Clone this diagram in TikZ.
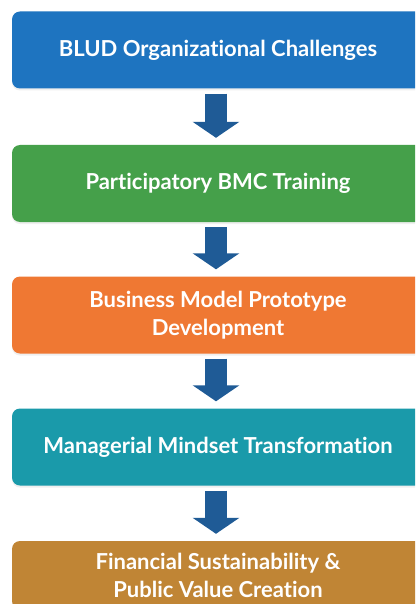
\documentclass[tikz,border=0pt]{standalone}
\usepackage{fontspec}
\setmainfont{Lato}[Ligatures={NoCommon}]
\usetikzlibrary{arrows.meta,calc,shadows}
\definecolor{stageblue}{HTML}{1E74C0}
\definecolor{stagegreen}{HTML}{45A04A}
\definecolor{stageorange}{HTML}{EF7833}
\definecolor{stageteal}{HTML}{1A9AAA}
\definecolor{stagebrown}{HTML}{C08535}
\definecolor{flowarrow}{HTML}{1F5B96}
\tikzset{
  stagebox/.style={rounded corners=8pt, minimum width=412pt, minimum height=77pt,
    text=white, align=center, inner sep=0pt,
    font=\fontsize{22}{28}\selectfont\bfseries,
    drop shadow={opacity=0.12, shadow xshift=0pt, shadow yshift=-2pt}},
  flowstep/.style={draw=flowarrow, line width=22pt,
    -{Triangle[width=46pt,length=16pt]}}
}
\begin{document}
\begin{tikzpicture}[x=1pt,y=-1pt]
  \useasboundingbox[fill=white] (0,0) rectangle (415,604);
  \begin{scope}
    \clip (0,0) rectangle (415,604);
    \node[stagebox, fill=stageblue]   (b1) at (218,50)    {BLUD Organizational Challenges};
    \node[stagebox, fill=stagegreen]  (b2) at (218,183.5) {Participatory BMC Training};
    \node[stagebox, fill=stageorange] (b3) at (218,315)   {Business Model Prototype\\Development};
    \node[stagebox, fill=stageteal]   (b4) at (218,447)   {Managerial Mindset Transformation};
    \node[stagebox, fill=stagebrown, minimum height=68pt] (b5) at (218,575) {Financial Sustainability \&\\Public Value Creation};
  \end{scope}
  \foreach \a/\b in {b1/b2,b2/b3,b3/b4,b4/b5}{
    \draw[flowstep] ($(\a.south)+(-2,5)$) -- ($(\b.north)+(-2,-7)$);
  }
\end{tikzpicture}
\end{document}
